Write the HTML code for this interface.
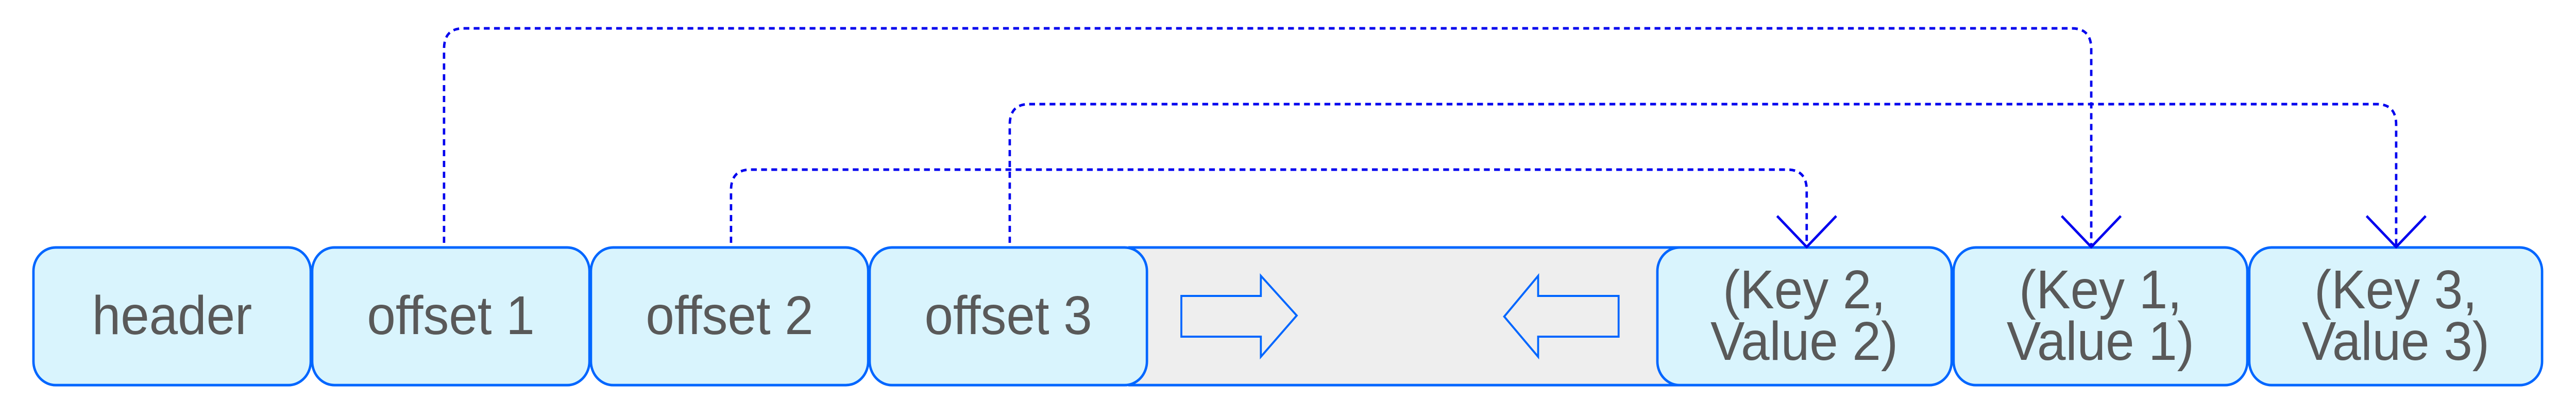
<!DOCTYPE html>
<html><head><style>
html,body{margin:0;padding:0;background:#fff;width:100%;height:100%;overflow:hidden;}
svg{display:block;width:100vw;height:100vh;}
text{font-family:"Liberation Sans",Arial,sans-serif;fill:#595959;}
</style></head><body>
<svg viewBox="0 0 5314 803" preserveAspectRatio="none" xmlns="http://www.w3.org/2000/svg">
<rect x="2330" y="480" width="1150" height="267" fill="#eeeeee" stroke="#0066ff" stroke-width="5"/>
<polygon points="2437,574 2601,574 2601,535 2675,612 2601,692 2601,653 2437,653" fill="none" stroke="#0066ff" stroke-width="4"/>
<polygon points="3339,574 3173,574 3173,535 3103,614 3173,692 3173,653 3339,653" fill="none" stroke="#0066ff" stroke-width="4"/>
<g fill="#d9f4fd" stroke="#0066ff" stroke-width="5">
<rect x="69" y="480" width="572" height="267" rx="46" ry="46"/>
<rect x="644" y="480" width="572" height="267" rx="46" ry="46"/>
<rect x="1219" y="480" width="572" height="267" rx="46" ry="46"/>
<rect x="1794" y="480" width="572" height="267" rx="46" ry="46"/>
<rect x="3419" y="480" width="607" height="267" rx="46" ry="46"/>
<rect x="4030" y="480" width="606" height="267" rx="46" ry="46"/>
<rect x="4640" y="480" width="604" height="267" rx="46" ry="46"/>
</g>
<g font-size="106" text-anchor="middle">
<text x="355" y="648">header</text>
<text x="930" y="648">offset 1</text>
<text x="1505" y="648">offset 2</text>
<text x="2080" y="648">offset 3</text>
<text x="3722" y="598">(Key 2,</text>
<text x="3722" y="698">Value 2)</text>
<text x="4333" y="598">(Key 1,</text>
<text x="4333" y="698">Value 1)</text>
<text x="4942" y="598">(Key 3,</text>
<text x="4942" y="698">Value 3)</text>
</g>
<g fill="none" stroke="#0000ee" stroke-width="5" stroke-dasharray="12,9">
<path d="M916,471 V95 Q916,55 956,55 H4274 Q4314,55 4314,95 V475"/>
<path d="M2083,471 V242 Q2083,202 2123,202 H4903 Q4943,202 4943,242 V475"/>
<path d="M1508,471 V369 Q1508,329 1548,329 H3687 Q3727,329 3727,369 V475"/>
</g>
<g fill="none" stroke="#0000ee" stroke-width="5">
<polyline points="3666,419 3727,479 3788,419"/>
<polyline points="4253,419 4314,479 4375,419"/>
<polyline points="4882,419 4943,479 5004,419"/>
</g>
</svg>
</body></html>
